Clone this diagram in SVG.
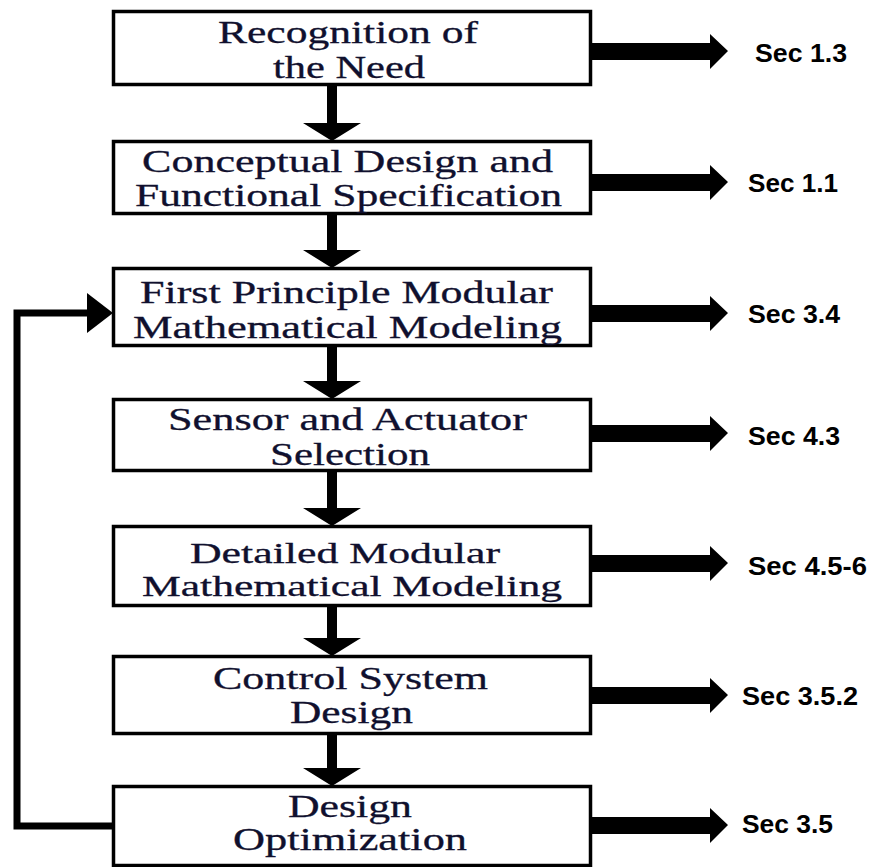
<svg xmlns="http://www.w3.org/2000/svg" width="872" height="867" viewBox="0 0 872 867">
<style>
.box{fill:#fff;stroke:#000;stroke-width:3.5}
.t{font-family:"Liberation Serif","Times New Roman",serif;font-size:31px;fill:#10102e;stroke:#10102e;stroke-width:0.3}
.t2{font-size:29px}
.s{font-family:"Liberation Sans",Arial,sans-serif;font-size:26px;font-weight:bold;fill:#000}
.ar{fill:#000}
.fb{fill:none;stroke:#000;stroke-width:7}
</style>
<rect width="872" height="867" fill="#fff"/>
<g id="connectors">
  <path class="ar" d="M327,86 H337 V123 H361 L332,141 L303,123 H327 Z"/>
  <path class="ar" d="M327,215 H337 V250 H361 L332,268 L303,250 H327 Z"/>
  <path class="ar" d="M327,347 H337 V381 H361 L332,399 L303,381 H327 Z"/>
  <path class="ar" d="M327,472 H337 V508 H361 L332,526 L303,508 H327 Z"/>
  <path class="ar" d="M327,607 H337 V638 H361 L332,656 L303,638 H327 Z"/>
  <path class="ar" d="M327,735 H337 V768 H361 L332,786 L303,768 H327 Z"/>
  <path class="ar" d="M592,43 H710 V34 L728,51 L710,69 V60 H592 Z"/>
  <path class="ar" d="M592,174 H710 V165 L728,182 L710,200 V191 H592 Z"/>
  <path class="ar" d="M592,305 H710 V296 L728,313 L710,331 V322 H592 Z"/>
  <path class="ar" d="M592,425 H710 V416 L728,433 L710,451 V442 H592 Z"/>
  <path class="ar" d="M592,555 H710 V546 L728,563 L710,581 V572 H592 Z"/>
  <path class="ar" d="M592,687 H710 V678 L728,695 L710,713 V704 H592 Z"/>
  <path class="ar" d="M592,817 H710 V808 L728,825 L710,843 V834 H592 Z"/>
  <polyline class="fb" points="113,826 17,826 17,313 92,313"/>
  <path class="ar" d="M87,293 L113,313 L87,333 Z"/>
</g>
<g id="n1">
  <rect class="box" x="113.5" y="11.5" width="477" height="73"/>
  <text class="t" x="218" y="43" textLength="260" lengthAdjust="spacingAndGlyphs">Recognition of</text>
  <text class="t" x="273" y="78" textLength="152" lengthAdjust="spacingAndGlyphs">the Need</text>
</g>
<g id="n2">
  <rect class="box" x="113.5" y="141.5" width="477" height="72"/>
  <text class="t" x="142" y="172" textLength="411" lengthAdjust="spacingAndGlyphs">Conceptual Design and</text>
  <text class="t" x="135" y="206" textLength="427" lengthAdjust="spacingAndGlyphs">Functional Specification</text>
</g>
<g id="n3">
  <rect class="box" x="113.5" y="268.5" width="477" height="77"/>
  <text class="t" x="140" y="303" textLength="413" lengthAdjust="spacingAndGlyphs">First Principle Modular</text>
  <text class="t" x="133" y="338" textLength="429" lengthAdjust="spacingAndGlyphs">Mathematical Modeling</text>
</g>
<g id="n4">
  <rect class="box" x="113.5" y="399.5" width="477" height="71"/>
  <text class="t" x="168" y="430" textLength="359" lengthAdjust="spacingAndGlyphs">Sensor and Actuator</text>
  <text class="t" x="270" y="465" textLength="160" lengthAdjust="spacingAndGlyphs">Selection</text>
</g>
<g id="n5">
  <rect class="box" x="113.5" y="526.5" width="477" height="79"/>
  <text class="t t2" x="190" y="563" textLength="310" lengthAdjust="spacingAndGlyphs">Detailed Modular</text>
  <text class="t t2" x="142" y="596" textLength="420" lengthAdjust="spacingAndGlyphs">Mathematical Modeling</text>
</g>
<g id="n6">
  <rect class="box" x="113.5" y="656.5" width="477" height="77"/>
  <text class="t" x="213" y="689" textLength="275" lengthAdjust="spacingAndGlyphs">Control System</text>
  <text class="t" x="290" y="723" textLength="123" lengthAdjust="spacingAndGlyphs">Design</text>
</g>
<g id="n7">
  <rect class="box" x="113.5" y="786.5" width="477" height="79"/>
  <text class="t" x="288" y="817" textLength="124" lengthAdjust="spacingAndGlyphs">Design</text>
  <text class="t" x="233" y="850" textLength="234" lengthAdjust="spacingAndGlyphs">Optimization</text>
</g>
<g id="labels">
  <text class="s" x="755" y="62" textLength="92" lengthAdjust="spacingAndGlyphs">Sec 1.3</text>
  <text class="s" x="748" y="192" textLength="90" lengthAdjust="spacingAndGlyphs">Sec 1.1</text>
  <text class="s" x="748" y="323" textLength="92" lengthAdjust="spacingAndGlyphs">Sec 3.4</text>
  <text class="s" x="748" y="445" textLength="92" lengthAdjust="spacingAndGlyphs">Sec 4.3</text>
  <text class="s" x="748" y="575" textLength="119" lengthAdjust="spacingAndGlyphs">Sec 4.5-6</text>
  <text class="s" x="742" y="705" textLength="116" lengthAdjust="spacingAndGlyphs">Sec 3.5.2</text>
  <text class="s" x="742" y="833" textLength="91" lengthAdjust="spacingAndGlyphs">Sec 3.5</text>
</g>
</svg>
